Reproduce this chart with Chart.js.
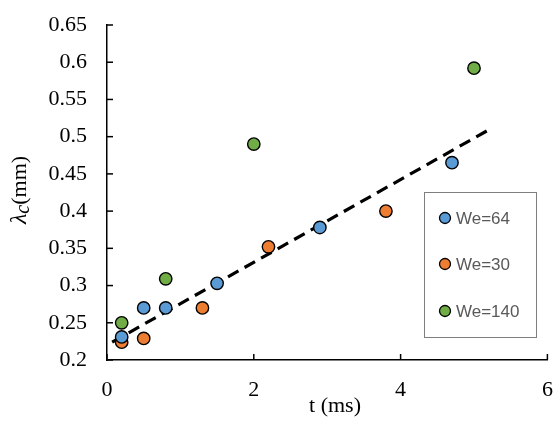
<!DOCTYPE html>
<html><head><meta charset="utf-8">
<script src="https://cdn.jsdelivr.net/npm/chart.js@4.4.1/dist/chart.umd.min.js"></script>
<style>html,body{margin:0;padding:0;background:#fff}#wrap{width:555px;height:421px;position:relative}</style>
</head><body><div id="wrap"><canvas id="c" width="555" height="421"></canvas></div>
<script>
const seriesNames = ['We=64', 'We=30', 'We=140'];
const seriesColors = ['#5B9BD5', '#ED7D31', '#70AD47'];
const we64X = [0.2, 0.5, 0.8, 1.5, 2.9, 4.7];
const we64Y = [0.231, 0.27, 0.27, 0.303, 0.378, 0.465];
const we30X = [0.2, 0.5, 1.3, 2.2, 3.8];
const we30Y = [0.224, 0.229, 0.27, 0.352, 0.40];
const we140X = [0.2, 0.8, 2.0, 5.0];
const we140Y = [0.25, 0.309, 0.49, 0.592];
const trendX = [0.07, 5.18];
const trendY = [0.224, 0.508];
const xTicks = [0, 2, 4, 6];
const yTicks = [0.2, 0.25, 0.3, 0.35, 0.4, 0.45, 0.5, 0.55, 0.6, 0.65];

const pts = (xs, ys) => xs.map((x, i) => ({x, y: ys[i]}));
const serif = '"Liberation Serif", "Times New Roman", serif';

const customPlugin = {
  id: 'custom',
  afterDraw(chart) {
    const ctx = chart.ctx, ca = chart.chartArea;
    const xs = chart.scales.x, ys = chart.scales.y;
    ctx.save();
    ctx.strokeStyle = '#000'; ctx.lineWidth = 1.5; ctx.setLineDash([]);
    yTicks.forEach(v => { const p = ys.getPixelForValue(v); ctx.beginPath(); ctx.moveTo(ca.left, p); ctx.lineTo(ca.left + 6, p); ctx.stroke(); });
    xTicks.forEach(v => { const p = xs.getPixelForValue(v); ctx.beginPath(); ctx.moveTo(p, ca.bottom); ctx.lineTo(p, ca.bottom - 6); ctx.stroke(); });
    // x title
    ctx.fillStyle = '#000';
    ctx.font = '22px ' + serif; ctx.textAlign = 'center'; ctx.textBaseline = 'alphabetic';
    ctx.fillText('t (ms)', 335, 412);
    // y title
    ctx.save();
    ctx.translate(26, 190);
    ctx.rotate(-Math.PI / 2);
    ctx.textAlign = 'left';
    const fBig = 'italic 24px ' + serif, fSub = 'italic 20px ' + serif, fN = '22px ' + serif;
    ctx.font = fBig; const w1 = ctx.measureText('λ').width;
    ctx.font = fSub; const w2 = ctx.measureText('c').width;
    ctx.font = fN; const w3 = ctx.measureText('(mm)').width;
    let x0 = -(w1 + w2 + w3) / 2;
    ctx.font = fBig; ctx.fillText('λ', x0, 0); x0 += w1;
    ctx.font = fSub; ctx.fillText('c', x0, 3); x0 += w2;
    ctx.font = fN; ctx.fillText('(mm)', x0, 0);
    ctx.restore();
    // legend
    const lx = 424, ly = 192, lw = 112, lh = 145;
    ctx.fillStyle = '#fff'; ctx.fillRect(lx, ly, lw, lh);
    ctx.strokeStyle = '#7f7f7f'; ctx.lineWidth = 1; ctx.strokeRect(lx + 0.5, ly + 0.5, lw, lh);
    const rows = [218, 264, 311];
    seriesNames.forEach((n, i) => {
      ctx.beginPath(); ctx.arc(445, rows[i], 5.5, 0, Math.PI * 2);
      ctx.fillStyle = seriesColors[i]; ctx.fill();
      ctx.strokeStyle = '#000'; ctx.lineWidth = 1.3; ctx.stroke();
      ctx.fillStyle = '#595959'; ctx.font = '17px "Liberation Sans", Arial, sans-serif';
      ctx.textAlign = 'left'; ctx.textBaseline = 'middle';
      ctx.fillText(n, 456, rows[i] + 1);
    });
    ctx.restore();
  }
};

const mkSeries = (i, xs, ys) => ({
  label: seriesNames[i], data: pts(xs, ys), showLine: false,
  pointRadius: 6.2, pointHoverRadius: 6.2, pointBackgroundColor: seriesColors[i],
  pointBorderColor: '#000', pointBorderWidth: 1.4, order: 1
});

new Chart(document.getElementById('c'), {
  type: 'scatter',
  data: { datasets: [
    { label: 'trend', data: pts(trendX, trendY), showLine: true, borderColor: '#000', borderWidth: 3.2,
      borderDash: [12, 7], pointRadius: 0, pointHoverRadius: 0, fill: false, order: 2 },
    mkSeries(0, we64X, we64Y), mkSeries(1, we30X, we30Y), mkSeries(2, we140X, we140Y)
  ]},
  options: {
    responsive: false, animation: false, devicePixelRatio: 1,
    layout: { padding: { top: 25, right: 7, left: 0, bottom: 0 } },
    plugins: { legend: { display: false }, tooltip: { enabled: false } },
    scales: {
      x: { type: 'linear', min: 0, max: 6,
        afterBuildTicks: s => { s.ticks = xTicks.map(v => ({value: v})); },
        afterFit: s => { s.height = 61; s.paddingLeft = 0; s.paddingRight = 0; },
        grid: { display: false, drawTicks: false },
        border: { display: true, color: '#000', width: 1.5, dash: [10, 7] },
        ticks: { padding: 17, color: '#000', font: { family: serif, size: 22 }, callback: v => String(v) } },
      y: { type: 'linear', min: 0.2, max: 0.65,
        afterBuildTicks: s => { s.ticks = yTicks.map(v => ({value: v})); },
        afterFit: s => { s.width = 107; s.paddingTop = 0; s.paddingBottom = 0; },
        grid: { display: false, drawTicks: false },
        border: { display: true, color: '#000', width: 1.5, dash: [10, 7] },
        ticks: { padding: 20, color: '#000', font: { family: serif, size: 22 }, callback: v => String(Math.round(v * 100) / 100) } }
    }
  },
  plugins: [customPlugin]
});
</script></body></html>
